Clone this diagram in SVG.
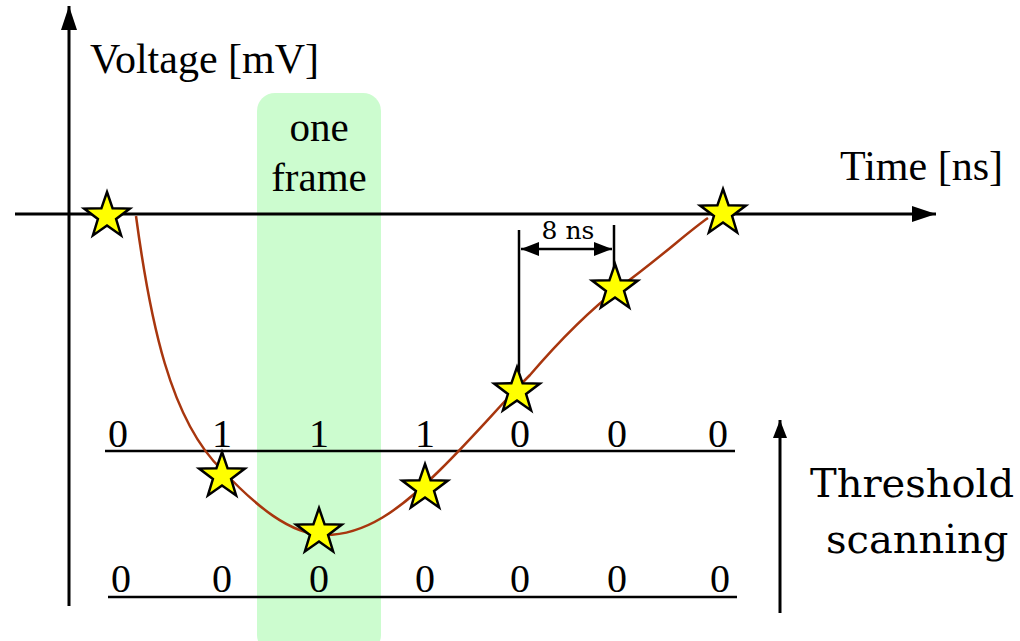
<svg xmlns="http://www.w3.org/2000/svg" width="1020" height="641" viewBox="0 0 1020 641">
<style>
.ax{stroke:#000;stroke-width:3;fill:none}
.th{stroke:#000;stroke-width:2.5;fill:none}
.t{font-family:"Liberation Serif","Times New Roman",serif;fill:#000}
.c{font-family:"DejaVu Serif","Liberation Serif",serif;fill:#000}
.star{fill:#ffff00;stroke:#000;stroke-width:2.5;stroke-linejoin:miter}
</style>
<defs>
<marker id="big" viewBox="0 0 24 16" markerWidth="24" markerHeight="16" refX="24" refY="8" orient="auto" markerUnits="userSpaceOnUse"><path d="M0,0 L24,8 L0,16 Z" fill="#000"/></marker>
<marker id="mid" viewBox="0 0 18 14" markerWidth="18" markerHeight="14" refX="18" refY="7" orient="auto-start-reverse" markerUnits="userSpaceOnUse"><path d="M0,0 L18,7 L0,14 Z" fill="#000"/></marker>
<polygon id="s" points="0,-24 5.6,-7.7 22.8,-7.4 9.1,3 14.1,19.4 0,9.5 -14.1,19.4 -9.1,3 -22.8,-7.4 -5.6,-7.7"/>
</defs>
<g id="frame"><rect x="257" y="93" width="124" height="560" rx="18" fill="#ccfccf"/>
<text class="t" font-size="41" x="319" y="141" text-anchor="middle">one</text>
<text class="t" font-size="41" x="319" y="191" text-anchor="middle">frame</text></g>
<g id="axes">
<line class="ax" x1="69" y1="606" x2="69" y2="6" marker-end="url(#big)"/>
<line class="ax" x1="15" y1="214" x2="936" y2="214" marker-end="url(#big)"/>
<text class="t" font-size="42" x="90" y="73">Voltage [mV]</text>
<text class="t" font-size="42" x="840" y="180">Time [ns]</text>
</g>
<g id="thresholds">
<line class="th" x1="105" y1="451" x2="735" y2="451"/>
<line class="th" x1="108" y1="597" x2="737" y2="597"/>
<g class="t" font-size="40" text-anchor="middle">
<text x="118" y="447">0</text><text x="222" y="447">1</text><text x="319" y="447">1</text><text x="425" y="447">1</text><text x="520" y="447">0</text><text x="617" y="447">0</text><text x="718" y="447">0</text>
<text x="121" y="592">0</text><text x="222" y="592">0</text><text x="319" y="592">0</text><text x="425" y="592">0</text><text x="520" y="592">0</text><text x="617" y="592">0</text><text x="720" y="592">0</text>
</g>
</g>
<g id="signal"><path d="M136,216 C150,320 170,420 222,470 C255,505 290,535 325,535 C365,535 400,510 440,470 C480,430 500,405 530,375 C560,340 590,310 620,287 C660,258 690,230 708,218" fill="none" stroke="#a8360e" stroke-width="2.5"/></g>
<g id="stars" class="star">
<use href="#s" x="107" y="216"/>
<use href="#s" x="222" y="476"/>
<use href="#s" x="319" y="532"/>
<use href="#s" x="425" y="488"/>
<use href="#s" x="517" y="391"/>
<use href="#s" x="615" y="288"/>
<use href="#s" x="723" y="213"/>
</g>
<g id="period">
<line class="th" x1="519" y1="230" x2="519" y2="372"/>
<line class="th" x1="614" y1="225" x2="614" y2="268"/>
<line class="th" x1="521" y1="249" x2="612" y2="249" marker-start="url(#mid)" marker-end="url(#mid)"/>
<text class="c" font-size="25" x="568" y="239" text-anchor="middle">8 ns</text>
</g>
<g id="scan">
<line class="ax" x1="780" y1="613" x2="780" y2="420" marker-end="url(#mid)"/>
<text class="c" font-size="40" x="810" y="497">Threshold</text>
<text class="c" font-size="40" x="826" y="553">scanning</text>
</g>
</svg>
